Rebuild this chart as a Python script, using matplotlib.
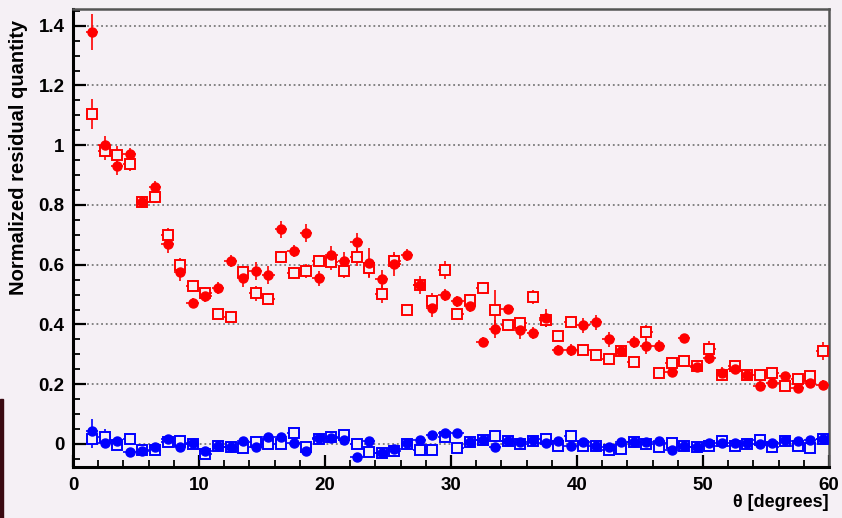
"""ROOT-style residual plot: red/blue filled circles and open squares vs theta."""

import matplotlib

matplotlib.use("Agg")
import matplotlib.pyplot as plt
import numpy as np
from matplotlib.patches import Rectangle
from matplotlib.ticker import MultipleLocator, FuncFormatter

plt.rcParams["font.family"] = ["Liberation Sans", "DejaVu Sans"]
plt.rcParams["font.weight"] = "bold"

BG = "#f5f0f5"

theta = np.arange(1.5, 60.0, 1.0)  # bin centres, 59 bins

red_filled = [1.38, 1.00, 0.93, 0.97, 0.81, 0.86, 0.67, 0.575, 0.473, 0.495,
              0.521, 0.612, 0.556, 0.579, 0.565, 0.718, 0.645, 0.707, 0.554, 0.634,
              0.614, 0.675, 0.607, 0.551, 0.601, 0.631, 0.531, 0.454, 0.499, 0.477,
              0.462, 0.342, 0.384, 0.451, 0.382, 0.371, 0.421, 0.315, 0.315, 0.397,
              0.408, 0.351, 0.312, 0.342, 0.327, 0.328, 0.241, 0.354, 0.256, 0.289,
              0.239, 0.250, 0.230, 0.195, 0.204, 0.226, 0.186, 0.204, 0.198]
red_filled_err = [0.06, 0.03, 0.03, 0.02, 0.02, 0.02, 0.03, 0.03, 0.015, 0.02,
                  0.02, 0.02, 0.03, 0.03, 0.03, 0.03, 0.02, 0.03, 0.025, 0.03,
                  0.03, 0.03, 0.05, 0.03, 0.04, 0.02, 0.03, 0.03, 0.02, 0.02,
                  0.02, 0.015, 0.03, 0.015, 0.03, 0.02, 0.03, 0.015, 0.02, 0.025,
                  0.025, 0.025, 0.02, 0.02, 0.025, 0.02, 0.015, 0.015, 0.015, 0.02,
                  0.02, 0.015, 0.015, 0.015, 0.015, 0.015, 0.015, 0.015, 0.015]

red_open = [1.105, 0.982, 0.966, 0.938, 0.81, 0.826, 0.698, 0.598, 0.529, 0.504,
            0.434, 0.425, 0.575, 0.504, 0.486, 0.627, 0.571, 0.579, 0.614, 0.609,
            0.579, 0.627, 0.590, 0.503, 0.612, 0.450, 0.531, 0.479, 0.582, 0.435,
            0.481, 0.523, 0.447, 0.397, 0.406, 0.492, 0.415, 0.362, 0.408, 0.314,
            0.297, 0.286, 0.31, 0.275, 0.374, 0.237, 0.270, 0.278, 0.261, 0.319,
            0.230, 0.261, 0.230, 0.230, 0.237, 0.195, 0.217, 0.226, 0.312]
red_open_err = [0.05, 0.03, 0.03, 0.025, 0.02, 0.02, 0.025, 0.025, 0.02, 0.02,
                0.015, 0.015, 0.02, 0.025, 0.02, 0.02, 0.02, 0.025, 0.02, 0.025,
                0.025, 0.03, 0.03, 0.03, 0.025, 0.015, 0.02, 0.025, 0.03, 0.02,
                0.02, 0.02, 0.068, 0.02, 0.02, 0.025, 0.025, 0.015, 0.02, 0.015,
                0.015, 0.015, 0.02, 0.015, 0.025, 0.015, 0.02, 0.015, 0.015, 0.025,
                0.015, 0.015, 0.015, 0.015, 0.015, 0.015, 0.015, 0.015, 0.03]

blue_filled = [0.045, 0.002, 0.011, -0.028, -0.022, -0.011, 0.017, -0.009, 0.002, -0.022,
               -0.006, -0.011, 0.011, -0.011, 0.022, 0.024, 0.002, -0.024, 0.019, 0.020,
               0.013, -0.042, 0.011, -0.031, -0.017, 0.003, 0.013, 0.030, 0.036, 0.036,
               0.006, 0.013, -0.011, 0.009, 0.006, 0.013, 0.002, 0.009, -0.006, 0.006,
               -0.006, -0.009, 0.006, 0.008, 0.006, 0.009, -0.020, -0.006, -0.009, 0.002,
               0.002, 0.002, 0.002, 0.000, 0.002, 0.013, 0.009, 0.013, 0.017]
blue_filled_err = [0.04] + [0.012] * 58

blue_open = [0.017, 0.024, -0.002, 0.017, -0.019, -0.020, 0.008, 0.009, 0.000, -0.033,
             -0.006, -0.011, -0.014, 0.008, 0.000, 0.000, 0.037, -0.011, 0.017, 0.024,
             0.031, 0.000, -0.026, -0.031, -0.022, 0.000, -0.020, -0.020, 0.022, -0.013,
             0.006, 0.013, 0.028, 0.009, 0.000, 0.009, 0.017, -0.006, 0.028, -0.008,
             -0.006, -0.020, -0.017, 0.006, 0.000, -0.011, 0.002, -0.006, -0.009, -0.006,
             0.011, -0.008, 0.000, 0.013, -0.011, 0.011, -0.008, -0.013, 0.017]
blue_open_err = [0.03, 0.025] + [0.012] * 57


def main() -> None:
    fig = plt.figure(figsize=(8.42, 5.18), dpi=100, facecolor=BG)
    ax = fig.add_axes([0.0867, 0.0985, 0.8979, 0.8841], facecolor=BG)

    # stray dark strip at the left edge of the original image
    fig.patches.append(Rectangle((0, 0), 0.004, 0.23, transform=fig.transFigure,
                                 color="#3a0a12", zorder=0))

    for y in np.arange(0.0, 1.41, 0.2):
        ax.axhline(y, color="#7a7a7a", lw=1.3, ls=(0, (1, 1.6)), zorder=1)

    common = dict(xerr=0.5, capsize=0, elinewidth=1.2, ls="none", zorder=3)
    ax.errorbar(theta, red_open, yerr=red_open_err, fmt="s", color="red",
                mfc=BG, mec="red", ms=7.5, mew=1.4, **common)
    ax.errorbar(theta, red_filled, yerr=red_filled_err, fmt="o", color="red",
                ms=6.5, **common)
    ax.errorbar(theta, blue_open, yerr=blue_open_err, fmt="s", color="blue",
                mfc=BG, mec="blue", ms=7.5, mew=1.4, **common)
    ax.errorbar(theta, blue_filled, yerr=blue_filled_err, fmt="o", color="blue",
                ms=6.5, **common)

    ax.set_xlim(0, 60)
    ax.set_ylim(-0.077, 1.456)

    ax.xaxis.set_major_locator(MultipleLocator(10))
    ax.xaxis.set_minor_locator(MultipleLocator(2))
    ax.yaxis.set_major_locator(MultipleLocator(0.2))
    ax.yaxis.set_minor_locator(MultipleLocator(0.05))
    ax.yaxis.set_major_formatter(FuncFormatter(lambda v, _: f"{v:g}" if abs(v) > 1e-9 else "0"))

    ax.tick_params(axis="both", which="both", direction="in", top=False, right=False,
                   labelsize=13.5, colors="black")
    ax.tick_params(axis="both", which="major", length=9, width=1.6)
    ax.tick_params(axis="both", which="minor", length=5, width=1.3)
    ax.tick_params(axis="x", pad=7)
    ax.tick_params(axis="y", pad=6)
    for lab in ax.get_xticklabels() + ax.get_yticklabels():
        lab.set_fontweight("bold")

    for side in ("left", "bottom"):
        ax.spines[side].set_linewidth(2.2)
        ax.spines[side].set_color("black")
    for side in ("top", "right"):
        ax.spines[side].set_linewidth(1.8)
        ax.spines[side].set_color("#555555")

    ax.set_ylabel("Normalized residual quantity", fontsize=14.5, fontweight="bold")
    ax.yaxis.set_label_coords(-0.06, 0.976)
    ax.yaxis.label.set_horizontalalignment("right")
    ax.set_xlabel("θ [degrees]", fontsize=13, fontweight="bold")
    ax.xaxis.set_label_coords(1.0, -0.06)
    ax.xaxis.label.set_horizontalalignment("right")

    fig.savefig("out.png", dpi=100, facecolor=BG)
    plt.close(fig)


if __name__ == "__main__":
    main()
